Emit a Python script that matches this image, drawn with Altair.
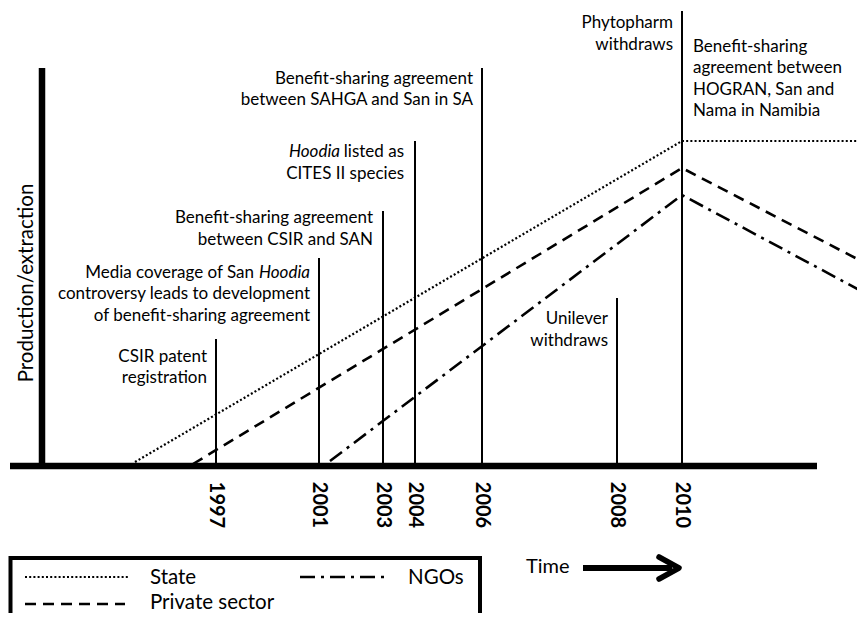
import altair as alt
import pandas as pd

FONT = "Lato"
W, H = 849, 605
X0, Y0 = 8, 8

# --- data (timeline positions in diagram units, y measured downward) ---
years = ["1997", "2001", "2003", "2004", "2006", "2008", "2010"]
year_pos = [216, 319, 383, 415, 482, 617, 682]
event_top = [339, 258, 211, 141, 68, 298, 11]
BASE = 466

series_names = ["State", "Private sector", "NGOs"]
state_x = [135, 682, 865]
state_y = [462, 141, 141]
private_x = [193, 682, 865]
private_y = [464, 168, 263]
ngo_x = [330, 682, 865]
ngo_y = [461, 195, 293]

# annotation texts (one row per printed line)
ann_right_text = [
    "CSIR patent", "registration",
    "Media coverage of San", "controversy leads to development", "of benefit-sharing agreement",
    "Benefit-sharing agreement", "between CSIR and SAN",
    "listed as", "CITES II species",
    "Benefit-sharing agreement", "between SAHGA and San in SA",
    "Unilever", "withdraws",
    "Phytopharm", "withdraws",
]
ann_right_x = [207, 207, 254, 310, 310, 373, 373, 404, 404, 473, 473, 608, 608, 673, 673]
ann_right_y = [357, 378, 273, 294, 316, 218, 240, 152, 174, 79, 100, 319, 341, 23, 45]

ann_italic_text = ["Hoodia", "Hoodia"]
ann_italic_x = [310, 340]
ann_italic_y = [273, 152]

ann_left_text = ["Benefit-sharing", "agreement between", "HOGRAN, San and", "Nama in Namibia"]
ann_left_x = [693, 693, 693, 693]
ann_left_y = [47, 68, 90, 111]

xs = alt.Scale(domain=[X0, X0 + W])
ys = alt.Scale(domain=[Y0, Y0 + H], reverse=True)


def X(f="x"):
    return alt.X(f"{f}:Q", scale=xs, axis=None)


def Y(f="y"):
    return alt.Y(f"{f}:Q", scale=ys, axis=None)


# thick axes
axes_df = pd.DataFrame({"x": [42, 10], "x2": [42, 817], "y": [68, BASE], "y2": [469, BASE]})
axes = alt.Chart(axes_df).mark_rule(color="black", strokeWidth=6.5, strokeCap="butt").encode(
    x=X(), x2="x2:Q", y=Y(), y2="y2:Q")

# event lines
ev_df = pd.DataFrame({"year": years, "x": year_pos, "y": event_top, "y2": [BASE] * len(years)})
events = alt.Chart(ev_df).mark_rule(color="black", strokeWidth=2).encode(x=X(), y=Y(), y2="y2:Q")

year_labels = alt.Chart(ev_df.assign(ly=505)).mark_text(
    angle=90, font=FONT, fontSize=20, fontWeight="bold", align="center", baseline="middle", color="black"
).encode(x=X(), y=Y("ly"), text="year:N")


def trend(xv, yv, dash, sw):
    df = pd.DataFrame({"x": xv, "y": yv, "o": range(len(xv))})
    return alt.Chart(df).mark_line(color="black", strokeDash=dash, strokeWidth=sw, clip=True).encode(
        x=X(), y=Y(), order="o:Q")


state_line = trend(state_x, state_y, [2, 2.2], 2.2)
private_line = trend(private_x, private_y, [11, 7], 2.6)
ngo_line = trend(ngo_x, ngo_y, [15, 6, 3, 6], 2.6)

# annotations
AF = 17
r_df = pd.DataFrame({"x": ann_right_x, "y": ann_right_y, "t": ann_right_text})
right_txt = alt.Chart(r_df).mark_text(font=FONT, fontSize=AF, align="right", baseline="middle", color="black").encode(
    x=X(), y=Y(), text="t:N")
i_df = pd.DataFrame({"x": ann_italic_x, "y": ann_italic_y, "t": ann_italic_text})
ital_txt = alt.Chart(i_df).mark_text(font=FONT, fontSize=AF, fontStyle="italic", align="right", baseline="middle",
                                     color="black").encode(x=X(), y=Y(), text="t:N")
l_df = pd.DataFrame({"x": ann_left_x, "y": ann_left_y, "t": ann_left_text})
left_txt = alt.Chart(l_df).mark_text(font=FONT, fontSize=AF, align="left", baseline="middle", color="black").encode(
    x=X(), y=Y(), text="t:N")

ylab = alt.Chart(pd.DataFrame({"x": [27], "y": [283], "t": ["Production/extraction"]})).mark_text(
    font=FONT, fontSize=20.5, angle=270, align="center", baseline="middle", color="black"
).encode(x=X(), y=Y(), text="t:N")

# legend box
box = alt.Chart(pd.DataFrame({"x": [10.5], "x2": [480], "y": [558], "y2": [640]})).mark_rect(
    fillOpacity=0, stroke="black", strokeWidth=4).encode(x=X(), x2="x2:Q", y=Y(), y2="y2:Q")


def seg(x1, x2, y, dash, sw):
    df = pd.DataFrame({"x": [x1, x2], "y": [y, y], "o": [0, 1]})
    return alt.Chart(df).mark_line(color="black", strokeDash=dash, strokeWidth=sw).encode(x=X(), y=Y(), order="o:Q")


leg_state = seg(25, 130, 577, [2, 2.2], 2.2)
leg_private = seg(25, 125, 604, [11, 7], 2.6)
leg_ngo = seg(300, 388, 577, [15, 6, 3, 6], 2.6)
leg_txt = alt.Chart(pd.DataFrame({"x": [150, 150, 408], "y": [578, 603, 578], "t": series_names})).mark_text(
    font=FONT, fontSize=20.5, align="left", baseline="middle", color="black").encode(x=X(), y=Y(), text="t:N")

# time arrow
time_txt = alt.Chart(pd.DataFrame({"x": [526], "y": [567], "t": ["Time"]})).mark_text(
    font=FONT, fontSize=20, align="left", baseline="middle", color="black").encode(x=X(), y=Y(), text="t:N")
shaft = alt.Chart(pd.DataFrame({"x": [583, 672], "y": [568, 568], "o": [0, 1]})).mark_line(
    color="black", strokeWidth=6).encode(x=X(), y=Y(), order="o:Q")
head = alt.Chart(pd.DataFrame({"x": [659, 679, 659], "y": [557, 568, 579], "o": [0, 1, 2]})).mark_line(
    color="black", strokeWidth=5.5, strokeCap="round", strokeJoin="round").encode(x=X(), y=Y(), order="o:Q")

chart = alt.layer(
    state_line, private_line, ngo_line, events, axes, year_labels,
    right_txt, ital_txt, left_txt, ylab,
    box, leg_state, leg_private, leg_ngo, leg_txt,
    time_txt, shaft, head,
).properties(
    width=W, height=H, padding=0, autosize=alt.AutoSizeParams(type="none"), background="white"
).configure_view(stroke=None)

chart.save("out.html", embed_options={"renderer": "svg", "actions": False})
